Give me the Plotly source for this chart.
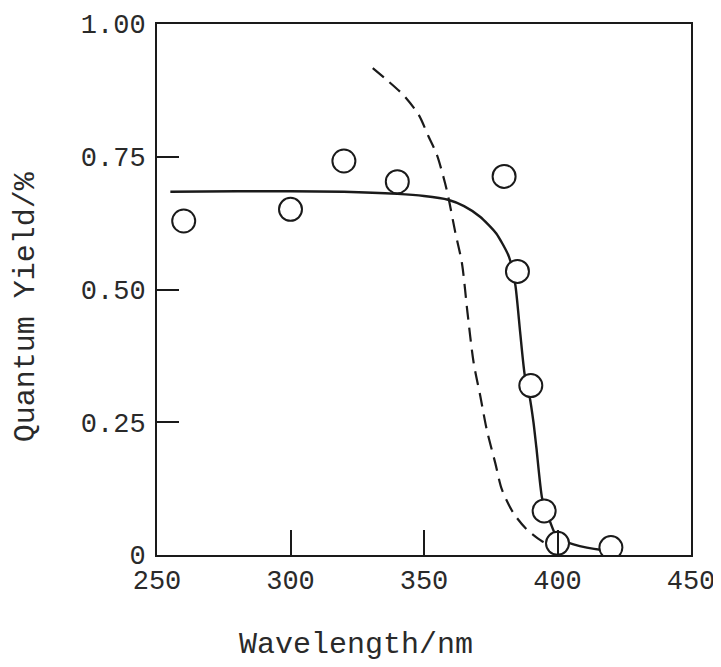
import plotly.graph_objects as go

# Measured points (open circles)
pt_wavelength = [260, 300, 320, 340, 380, 385, 390, 395, 400, 420]
pt_yield = [0.629, 0.651, 0.742, 0.703, 0.713, 0.534, 0.319, 0.083, 0.022, 0.014]

# Solid fitted curve
solid_wavelength = [255, 280, 300, 320, 340, 350, 359, 365, 371, 377, 381.8, 384.2,
                    386, 387.7, 389.5, 391, 392.1, 394.2, 396, 399.2, 402, 406, 411, 416, 420]
solid_yield = [0.684, 0.685, 0.685, 0.684, 0.680, 0.676, 0.669, 0.657, 0.637, 0.606, 0.562, 0.509,
               0.420, 0.340, 0.300, 0.250, 0.202, 0.108, 0.080, 0.039, 0.027, 0.020, 0.014, 0.010, 0.009]

# Dashed curve
dash_wavelength = [330.8, 336, 342.3, 348, 351.7, 354.8, 357.9, 359.2, 361.7, 364.2, 366.3,
                   368.6, 371.1, 373.5, 376.7, 379.2, 383.5, 388.5, 394.2, 397]
dash_yield = [0.917, 0.895, 0.866, 0.829, 0.788, 0.754, 0.700, 0.672, 0.608, 0.550, 0.456,
              0.362, 0.299, 0.236, 0.173, 0.123, 0.079, 0.048, 0.026, 0.020]

x_tickvals = [250, 300, 350, 400, 450]
x_ticktext = ["250", "300", "350", "400", "450"]
y_tickvals = [0, 0.25, 0.5, 0.75, 1.0]
y_ticktext = ["0", "0.25", "0.50", "0.75", "1.00"]

FONT = "Liberation Mono, Courier New, monospace"
INK = "#1a1a1a"
TXT = "#2a2a2a"

fig = go.Figure()
fig.add_trace(go.Scatter(x=dash_wavelength, y=dash_yield, mode="lines",
                         line=dict(color=INK, width=2.2, dash="14px,8px", shape="spline", smoothing=0.8),
                         showlegend=False, hoverinfo="skip"))
fig.add_trace(go.Scatter(x=solid_wavelength, y=solid_yield, mode="lines",
                         line=dict(color=INK, width=2.4, shape="spline", smoothing=0.6),
                         showlegend=False, hoverinfo="skip"))
fig.add_trace(go.Scatter(x=pt_wavelength, y=pt_yield, mode="markers",
                         marker=dict(symbol="circle", size=23, color="white",
                                     line=dict(color=INK, width=2)),
                         showlegend=False))

# page body has an 8px default margin, so the figure is drawn 8px in from the corner
fig.update_layout(
    width=713, height=659,
    margin=dict(l=149, r=30, t=16, b=112, autoexpand=False),
    paper_bgcolor="white", plot_bgcolor="white",
    font=dict(family=FONT, color=TXT),
    xaxis=dict(range=[250, 450], tickvals=x_tickvals, ticktext=x_ticktext,
               ticks="inside", ticklen=25, tickwidth=1.5, tickcolor=INK,
               showline=True, linewidth=2, linecolor=INK, mirror=True,
               showgrid=False, zeroline=False, automargin=False,
               tickfont=dict(family=FONT, size=27, color=TXT)),
    yaxis=dict(range=[0, 1], tickvals=y_tickvals, ticktext=y_ticktext,
               ticks="inside", ticklen=22, tickwidth=1.5, tickcolor=INK,
               showline=True, linewidth=2, linecolor=INK, mirror=True,
               showgrid=False, zeroline=False, automargin=False,
               ticklabelstandoff=4,
               tickfont=dict(family=FONT, size=27, color=TXT)),
    annotations=[
        dict(text="Wavelength/nm", xref="paper", yref="paper", x=0.373, y=-0.169,
             xanchor="center", yanchor="middle", showarrow=False,
             font=dict(family=FONT, size=30, color=TXT)),
        dict(text="Quantum Yield/%", xref="paper", yref="paper", x=-0.245, y=0.467,
             xanchor="center", yanchor="middle", showarrow=False, textangle=-90,
             font=dict(family=FONT, size=30, color=TXT)),
    ],
)

fig.write_html("out.html")
